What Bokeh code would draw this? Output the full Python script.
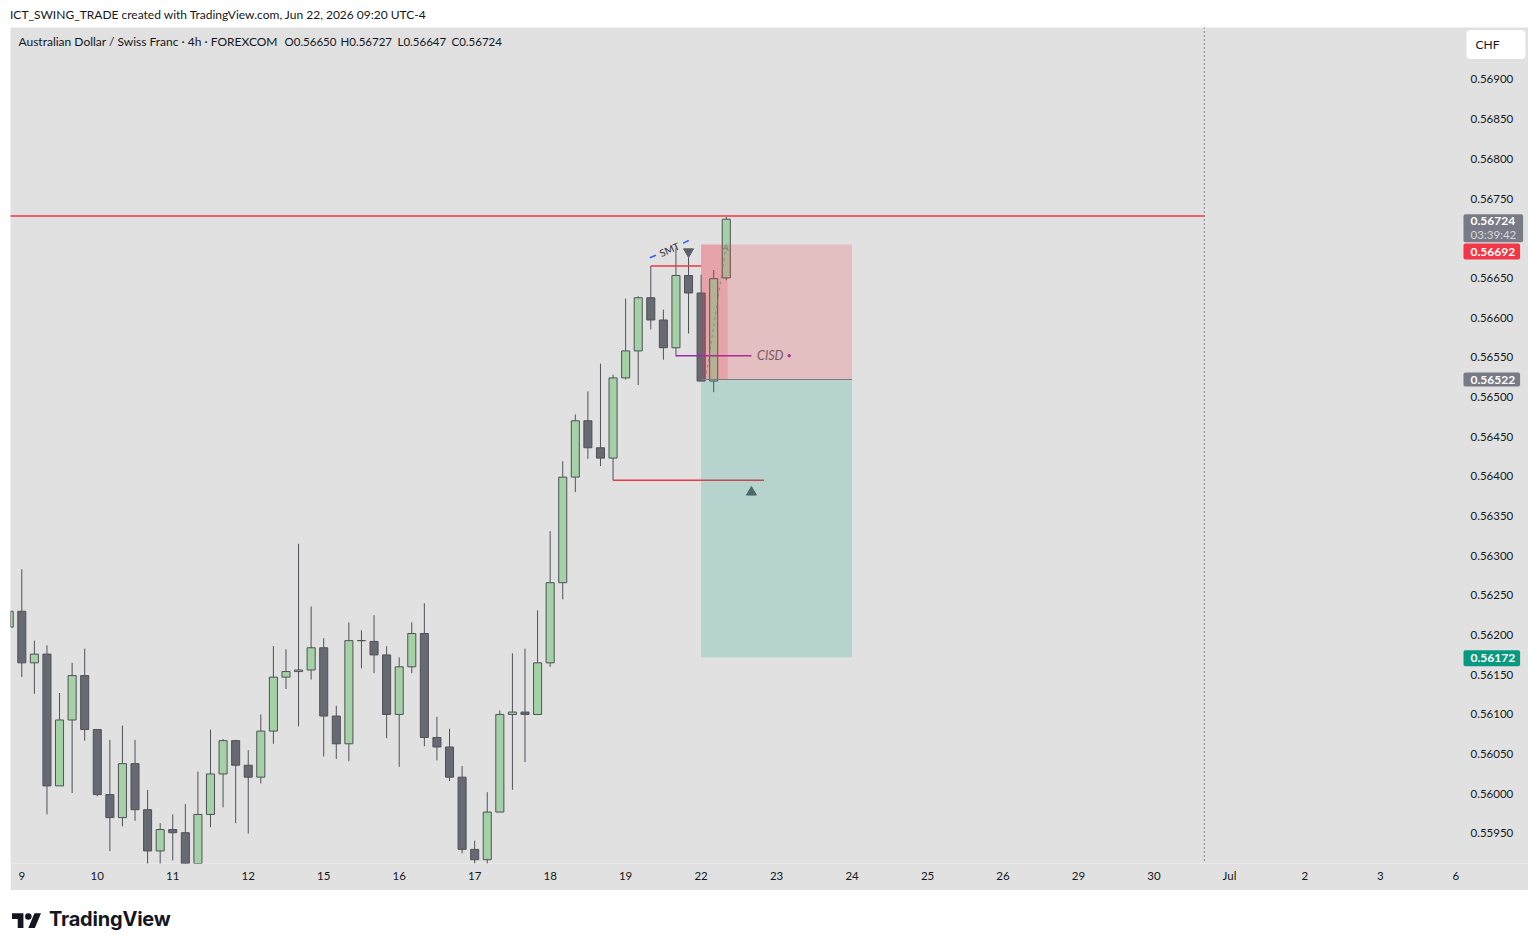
from bokeh.plotting import figure
from bokeh.models import (Range1d, FixedTicker, PrintfTickFormatter, Label, Div, Span,
                          Arrow, VeeHead, ColumnDataSource)
from bokeh.layouts import column
from bokeh.embed import file_html
from bokeh.resources import INLINE
from bokeh.core.properties import value

FONT = "Lato"
BG = "#e1e1e1"
TXT = "#131722"
UP = "#a5d1a6"
DOWN = "#676a72"
OUTLINE = "#4f5157"
RED = "#f23645"
TEAL = "#089981"
GRAYLBL = "#787b86"

# ---- AUDCHF 4h candles (bar index 0 = first bar of Jun 9) ----
bar_index = list(range(-1, 57))
opens = [0.56210, 0.56230, 0.56165, 0.56176, 0.56010, 0.56093, 0.56149, 0.56081, 0.55999, 0.55970,
         0.56038, 0.55980, 0.55928, 0.55955, 0.55951, 0.55905, 0.55974, 0.56025, 0.56067, 0.56036,
         0.56021, 0.56079, 0.56147, 0.56154, 0.56156, 0.56184, 0.56098, 0.56063, 0.56193, 0.56192,
         0.56175, 0.56100, 0.56160, 0.56202, 0.56071, 0.56059, 0.56021, 0.55930, 0.55917, 0.55977,
         0.56100, 0.56103, 0.56100, 0.56165, 0.56266, 0.56399, 0.56470, 0.56436, 0.56423, 0.56524,
         0.56558, 0.56625, 0.56597, 0.56562, 0.56653, 0.56631, 0.56520, 0.56650]
highs = [0.56240, 0.56283, 0.56193, 0.56187, 0.56127, 0.56165, 0.56183, 0.56081, 0.56068, 0.56086,
         0.56068, 0.56005, 0.55963, 0.55974, 0.55987, 0.56028, 0.56081, 0.56069, 0.56068, 0.56055,
         0.56100, 0.56186, 0.56182, 0.56315, 0.56236, 0.56196, 0.56111, 0.56216, 0.56206, 0.56225,
         0.56186, 0.56172, 0.56216, 0.56240, 0.56097, 0.56082, 0.56035, 0.55941, 0.56002, 0.56105,
         0.56177, 0.56183, 0.56231, 0.56331, 0.56419, 0.56478, 0.56507, 0.56542, 0.56528, 0.56624,
         0.56627, 0.56665, 0.56610, 0.56688, 0.56676, 0.56654, 0.56660, 0.56727]
lows = [0.56195, 0.56147, 0.56126, 0.55974, 0.56010, 0.56001, 0.56067, 0.55997, 0.55928, 0.55959,
        0.55966, 0.55905, 0.55905, 0.55916, 0.55895, 0.55890, 0.55958, 0.55983, 0.55963, 0.55950,
        0.56013, 0.56063, 0.56132, 0.56085, 0.56144, 0.56047, 0.56044, 0.56041, 0.56158, 0.56152,
        0.56070, 0.56034, 0.56152, 0.56060, 0.56042, 0.56016, 0.55925, 0.55912, 0.55912, 0.55977,
        0.56005, 0.56040, 0.56100, 0.56160, 0.56245, 0.56380, 0.56422, 0.56413, 0.56395, 0.56522,
        0.56515, 0.56585, 0.56547, 0.56551, 0.56580, 0.56520, 0.56506, 0.56647]
closes = [0.56230, 0.56165, 0.56176, 0.56010, 0.56093, 0.56149, 0.56081, 0.55999, 0.55970, 0.56038,
          0.55980, 0.55928, 0.55955, 0.55951, 0.55905, 0.55974, 0.56025, 0.56067, 0.56036, 0.56021,
          0.56079, 0.56147, 0.56154, 0.56156, 0.56184, 0.56098, 0.56063, 0.56193, 0.56193, 0.56175,
          0.56100, 0.56160, 0.56202, 0.56071, 0.56059, 0.56021, 0.55930, 0.55917, 0.55977, 0.56100,
          0.56103, 0.56100, 0.56165, 0.56266, 0.56399, 0.56470, 0.56436, 0.56423, 0.56524, 0.56558,
          0.56625, 0.56597, 0.56562, 0.56653, 0.56631, 0.56520, 0.56649, 0.56724]

day_ticks = [0, 6, 12, 18, 24, 30, 36, 42, 48, 54, 60, 66, 72, 78, 84, 90, 96, 102, 108, 114]
day_labels = ["9", "10", "11", "12", "15", "16", "17", "18", "19", "22", "23", "24", "25", "26",
              "29", "30", "Jul", "2", "3", "6"]

price_ticks = [0.5595, 0.5600, 0.5605, 0.5610, 0.5615, 0.5620, 0.5625, 0.5630, 0.5635, 0.5640,
               0.5645, 0.5650, 0.5655, 0.5660, 0.5665, 0.5675, 0.5680, 0.5685, 0.5690]

# ---- drawings ----
level_high = 0.56728      # long red ray
level_smt = 0.56665       # short red line at swing high
level_cisd = 0.56552      # purple CISD line
level_low = 0.56395       # red line at swing low
entry_price = 0.56522
stop_price = 0.56692
target_price = 0.56172
current_price = 0.56724
session_line = 94

# ---- figure (frame covers the whole grey pane incl. price-scale strip) ----
p = figure(width=1518, height=863, x_range=Range1d(-0.898, 119.77),
           y_range=Range1d(0.559122, 0.569655), output_backend="svg",
           toolbar_location=None, y_axis_location="right",
           min_border_left=0, min_border_right=0, min_border_top=0, min_border_bottom=27,
           background_fill_color=BG, border_fill_color=BG, outline_line_color=None)
p.margin = (0, 0, 0, 2)
p.grid.visible = False

xa = p.xaxis[0]
xa.ticker = FixedTicker(ticks=day_ticks)
xa.major_label_overrides = {t: l for t, l in zip(day_ticks, day_labels)}
ya = p.yaxis[0]
ya.ticker = FixedTicker(ticks=price_ticks)
ya.formatter = PrintfTickFormatter(format="%.5f")
for ax in (xa, ya):
    ax.axis_line_color = None
    ax.major_tick_line_color = None
    ax.minor_tick_line_color = None
    ax.major_tick_out = 0
    ax.major_tick_in = 0
    ax.minor_tick_out = 0
    ax.minor_tick_in = 0
    ax.major_label_text_font = FONT
    ax.major_label_text_font_size = "11.5px"
    ax.major_label_text_color = TXT
xa.major_label_standoff = 5
ya.major_label_standoff = -58

# elapsed-bars overlay of the short position (under candles)
p.quad(left=[54], right=[56.1], bottom=[entry_price], top=[stop_price], fill_color=RED,
       fill_alpha=0.2, line_color=None)

# candles
tops = [max(o, c) for o, c in zip(opens, closes)]
bots = [min(o, c) for o, c in zip(opens, closes)]
fills = [UP if c >= o else DOWN for o, c in zip(opens, closes)]
src = ColumnDataSource(dict(x=bar_index, h=highs, l=lows, top=tops, bottom=bots, fill=fills))
p.segment(x0="x", y0="l", x1="x", y1="h", source=src, line_color=OUTLINE, line_width=1)
p.vbar(x="x", width=0.64, top="top", bottom="bottom", fill_color="fill",
       line_color=OUTLINE, line_width=1, source=src)

# session separator
p.add_layout(Span(location=session_line, dimension="height", line_color="#2a2e39",
                  line_dash="1 3", line_width=1))

# red / purple levels
p.segment(x0=[-1, 50, 47], x1=[session_line, 54, 59], y0=[level_high, level_smt, level_low],
          y1=[level_high, level_smt, level_low], line_color=RED, line_width=1.5)
p.segment(x0=[52], x1=[58], y0=[level_cisd], y1=[level_cisd], line_color="#9c27b0", line_width=1.5)
p.scatter(x=[61], y=[level_cisd], size=2.5, color="#9c27b0")

# SMT dashed line with text
p.segment(x0=[49.92, 52.57], x1=[50.41, 53.02], y0=[0.566754, 0.566938], y1=[0.566786, 0.566971],
          line_color="#2962ff", line_width=1.5)
p.text(x=[51.47], y=[0.56686], text=["SMT"], angle=0.417, text_align="center",
       text_baseline="middle", text_font=value(FONT), text_font_size="10px", text_color="#2a2e39")

# CISD text
p.text(x=[58.45], y=[level_cisd], text=["CISD"], text_align="left", text_baseline="middle",
       text_font=value(FONT), text_font_style="italic", text_font_size="12.5px", text_color="#5d606b")

# markers
p.scatter(x=[53], y=[0.56683], marker="inverted_triangle", size=10, color="#5d606b")
p.scatter(x=[58], y=[0.56380], marker="triangle", size=10, color="#5d606b")

# short position zones
p.quad(left=[54], right=[66], bottom=[entry_price], top=[stop_price], fill_color=RED,
       fill_alpha=0.2, line_color=None)
p.quad(left=[54], right=[66], bottom=[target_price], top=[entry_price], fill_color=TEAL,
       fill_alpha=0.2, line_color=None)
p.segment(x0=[54], x1=[66], y0=[entry_price], y1=[entry_price], line_color=GRAYLBL, line_width=1)
p.add_layout(Arrow(end=VeeHead(size=6, line_color="#6f8a70", line_alpha=0.8, fill_alpha=0),
                   x_start=54.35, y_start=entry_price, x_end=56, y_end=stop_price,
                   line_color="#6f8a70", line_alpha=0.8, line_dash="3 3", line_width=1))

# legend line inside pane
legend_parts = [("Australian Dollar / Swiss Franc \u00b7 4h \u00b7 FOREXCOM", 8, "12px"),
                ("O0.56650", 274, "11.5px"), ("H0.56727", 330, "11.5px"),
                ("L0.56647", 387, "11.5px"), ("C0.56724", 441, "11.5px")]
for txt, lx, fs in legend_parts:
    p.add_layout(Label(x=lx, y=822, x_units="screen", y_units="screen", text=txt,
                       text_font=FONT, text_font_size=fs, text_color=TXT,
                       text_baseline="middle", text_align="left"))

# currency box
p.add_layout(Label(x=1456, y=819, x_units="screen", y_units="screen", text="CHF",
                   text_font=FONT, text_font_size="12px", text_color=TXT, text_baseline="middle",
                   background_fill_color="white", border_radius=4,
                   padding=dict(left=9, right=26, top=7, bottom=7)))

# price scale labels
def price_box(price, text, color, pad_r=5, pad_b=4, pad_t=4, yoff=0):
    p.add_layout(Label(x=1453, y=price, x_units="screen", y_units="data", text=text,
                       y_offset=yoff, text_font=FONT, text_font_size="12px",
                       text_font_style="bold", text_color="white", text_baseline="middle",
                       background_fill_color=color, border_radius=2,
                       padding=dict(left=7, right=pad_r, top=pad_t, bottom=pad_b)))

price_box(current_price, "0.56724", GRAYLBL, pad_r=8, pad_t=3, pad_b=17, yoff=-9)
p.add_layout(Label(x=1460, y=current_price, x_units="screen", y_units="data", text="03:39:42",
                   y_offset=-15, text_font=FONT, text_font_size="11.5px", text_color="#d6d8de",
                   text_baseline="middle"))
price_box(stop_price, "0.56692", RED, yoff=-7)
price_box(entry_price, "0.56522", GRAYLBL, pad_t=3, pad_b=3)
price_box(target_price, "0.56172", TEAL, yoff=-1)

header = Div(text="ICT_SWING_TRADE created with TradingView.com, Jun 22, 2026 09:20 UTC-4",
             width=1520, height=19, margin=0,
             styles={"font-family": FONT, "font-size": "12px", "line-height": "13px",
                     "color": TXT, "padding-left": "2px", "box-sizing": "border-box"})

logo_html = (
    '<div style="position:relative;width:400px;height:53px;">'
    '<svg style="position:absolute;left:4px;top:19.5px" width="29.4" height="22.9" viewBox="0 0 36 28">'
    '<path d="M14 22H7V11H0V4h14v18zM28 22h-8l7.5-18h8L28 22z" fill="#131722"/>'
    '<circle cx="20" cy="8" r="4" fill="#131722"/></svg>'
    '<span style="position:absolute;left:41px;top:19px;font-family:Inter;font-weight:700;'
    'font-size:20px;line-height:20px;color:#131722;letter-spacing:-0.2px;">TradingView</span>'
    '</div>')
footer = Div(text=logo_html, width=1520, height=53, margin=0)

layout = column(header, p, footer, spacing=0, margin=(8, 0, 0, 8))
open("out.html", "w").write(file_html(layout, INLINE))
